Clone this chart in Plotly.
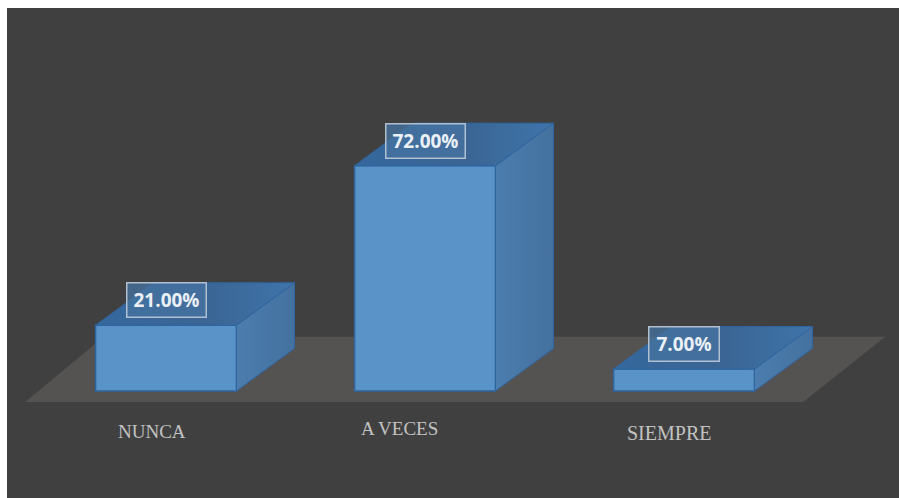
import plotly.graph_objects as go

categories = ["NUNCA", "A VECES", "SIEMPRE"]
values = [21.0, 72.0, 7.0]
positions = [0, 1, 2]
label_texts = ["21.00%", "72.00%", "7.00%"]

BAR_W = 0.544
DX = 0.224
DY = 13.6
X_RANGE = [-0.614, 2.830]
Y_RANGE = [-34.2, 122.4]

FRONT = "#5a93c8"
EDGE = "#2f659f"

fig = go.Figure()

fig.add_trace(go.Bar(
    x=positions, y=values, width=BAR_W,
    marker=dict(color=FRONT, line=dict(color=EDGE, width=1.5)),
    hoverinfo="skip", showlegend=False,
))

for p, v in zip(positions, values):
    l, r = p - BAR_W / 2, p + BAR_W / 2
    fig.add_trace(go.Scatter(
        x=[r, r + DX, r + DX, r, r], y=[0, DY, v + DY, v, 0],
        mode="lines", fill="toself",
        fillgradient=dict(type="horizontal",
                          colorscale=[[0, "#4b7dae"], [1, "#44719f"]]),
        line=dict(color=EDGE, width=1), hoverinfo="skip", showlegend=False,
    ))
    fig.add_trace(go.Scatter(
        x=[l, l + DX, r + DX, r, l], y=[v, v + DY, v + DY, v, v],
        mode="lines", fill="toself",
        fillgradient=dict(type="horizontal",
                          colorscale=[[0, "#35689e"], [0.55, "#3a6594"], [1, "#3f74aa"]]),
        line=dict(color=EDGE, width=1), hoverinfo="skip", showlegend=False,
    ))

# floor plane
fig.add_shape(type="path", layer="below", line_width=0, fillcolor="#545352",
              xref="x", yref="y",
              path="M -0.544 -3.5 L 2.46 -3.5 L 2.777 17.3 L -0.24 17.3 Z")

for p, v, t, w in zip(positions, values, label_texts, [78, 78, 69]):
    fig.add_annotation(
        x=p, y=v, yshift=25, text=f"<b>{t}</b>", showarrow=False,
        width=w, height=33,
        font=dict(family="Open Sans", size=19, color="#eaf0f6"),
        bgcolor="rgba(70,115,160,0.75)", bordercolor="#b0c0d0",
        borderwidth=1.5, borderpad=0,
    )

for p, c, dx, py, sz in zip(positions, categories, [-14, -26, -15], [-12.8, -12.1, -13.4], [19, 19, 20]):
    fig.add_annotation(
        x=p, y=py, xshift=dx, text=c, showarrow=False,
        font=dict(family="Liberation Serif", size=sz, color="#c2c2c2"),
    )

fig.update_layout(
    width=899, height=498,
    margin=dict(l=7, r=0, t=8, b=0),
    paper_bgcolor="#ffffff", plot_bgcolor="#404040",
    xaxis=dict(range=X_RANGE, visible=False),
    yaxis=dict(range=Y_RANGE, visible=False),
    showlegend=False,
)

fig.write_html("out.html", config={"displayModeBar": False},
               post_script="document.body.style.margin='0';")
